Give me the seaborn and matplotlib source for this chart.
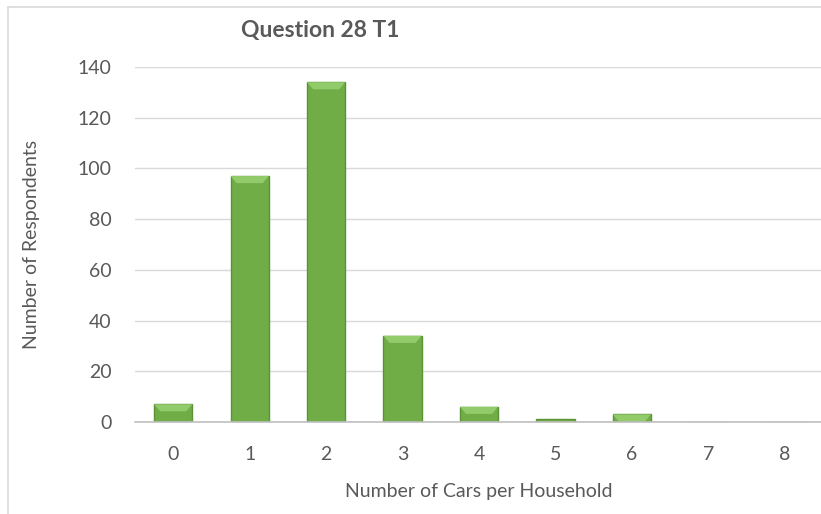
import pandas as pd
import matplotlib
matplotlib.use("Agg")
import matplotlib.pyplot as plt
from matplotlib.patches import Polygon
import seaborn as sns

# values
cars = ["0", "1", "2", "3", "4", "5", "6", "7", "8"]
respondents = [7, 97, 134, 34, 6, 1, 3, 0, 0]

df = pd.DataFrame({"Cars": cars, "Respondents": respondents})

sns.set_style("white")
plt.rcParams["font.family"] = ["Lato", "DejaVu Sans"]

fig = plt.figure(figsize=(8.21, 5.14), dpi=100)
ax = fig.add_axes([135 / 821, 92 / 514, 688 / 821, 355 / 514])

sns.barplot(data=df, x="Cars", y="Respondents", order=cars, color="#70AD47",
            width=0.5, edgecolor="#5B9236", linewidth=1.0, saturation=1, ax=ax)

# light bevel on top of each bar, like the office chart style
for bar in ax.patches:
    h = bar.get_height()
    if h < 2:
        continue
    x0, w = bar.get_x(), bar.get_width()
    d = 2.8
    ax.add_patch(Polygon([(x0, h), (x0 + w, h), (x0 + w - 0.08, h - d), (x0 + 0.08, h - d)],
                         closed=True, facecolor="#92CC6A", edgecolor="none", zorder=bar.get_zorder() + 0.1))

ax.set_ylim(0, 140)
ax.set_yticks(range(0, 141, 20))
ax.set_xlim(-0.5, 8.5)
ax.yaxis.grid(True, color="#D9D9D9", linewidth=1)
ax.set_axisbelow(True)
for side in ["top", "right", "left"]:
    ax.spines[side].set_visible(False)
ax.spines["bottom"].set_color("#BFBFBF")
ax.spines["bottom"].set_linewidth(1.2)
ax.tick_params(axis="both", length=0, labelsize=14, colors="#595959")
ax.tick_params(axis="x", pad=17)
ax.tick_params(axis="y", pad=17)

ax.set_xlabel("Number of Cars per Household", fontsize=14, color="#595959", labelpad=15)
ax.set_ylabel("Number of Respondents", fontsize=14, color="#595959", labelpad=27)

fig.text(320 / 821, 1 - 31 / 514, "Question 28 T1", ha="center", va="center",
         fontsize=16.5, fontweight="bold", color="#595959")

# chart border (only left and top visible in the crop)
fig.add_artist(plt.Line2D([8 / 821, 8 / 821], [0, 1 - 7 / 514], transform=fig.transFigure,
                          color="#D9D9D9", linewidth=1.2))
fig.add_artist(plt.Line2D([8 / 821, 1], [1 - 7 / 514, 1 - 7 / 514], transform=fig.transFigure,
                          color="#D9D9D9", linewidth=1.2))

fig.savefig("out.png", dpi=100)
